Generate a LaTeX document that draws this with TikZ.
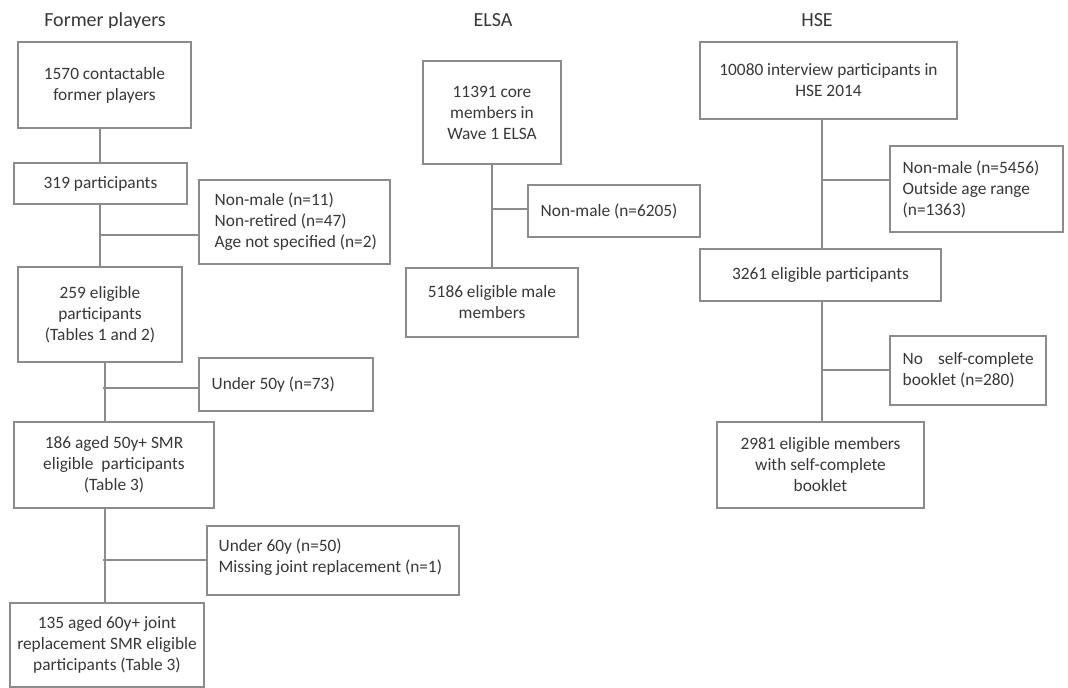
\documentclass[tikz,border=0pt]{standalone}
\usepackage{fontspec}
\setmainfont{Carlito}
\definecolor{linegray}{HTML}{8C8C8C}
\definecolor{textgray}{HTML}{383838}
\begin{document}
\begin{tikzpicture}[x=0.75pt,y=-0.75pt,
  box/.style={draw=linegray, line width=0.9pt, text=textgray, align=center, inner sep=0pt,
    font=\fontsize{13}{15.75}\selectfont},
  etext/.style={anchor=west, text=textgray, align=left, inner sep=0pt,
    font=\fontsize{13}{15.75}\selectfont},
  title/.style={anchor=base, text=textgray, inner sep=0pt, font=\fontsize{15}{18}\selectfont},
  conn/.style={draw=linegray, line width=0.9pt}]
\useasboundingbox (0,0) rectangle (1068,688);
\fill[white] (0,0) rectangle (1068,688);

% titles (clipped at the bottom as in the reference)
\begin{scope}
\clip (0,0) rectangle (1068,27.5);
\node[title] (t1) at (105,26.5) {Former players};
\node[title] (t2) at (493,26.5) {ELSA};
\node[title] (t3) at (817,26.5) {HSE};
\end{scope}

% Former players
\node[box, minimum width=173*0.75pt, minimum height=86*0.75pt] (A) at (104.5,85) {1570 contactable\\former players};
\node[box, minimum width=173*0.75pt, minimum height=41*0.75pt] (B) at (100.5,183.5) {319 participants};
\node[box, minimum width=191*0.75pt, minimum height=84*0.75pt] (X1) at (294.5,222) {};
\node[etext] (X1t) at ([xshift=16*0.75pt]X1.west) {Non-male (n=11)\\Non-retired (n=47)\\Age not specified (n=2)};
\node[box, minimum width=164*0.75pt, minimum height=95*0.75pt] (C) at (100,314.5) {259 eligible\\participants\\(Tables 1 and 2)};
\node[box, minimum width=174*0.75pt, minimum height=53*0.75pt] (X2) at (286,384.5) {};
\node[etext] (X2t) at ([xshift=13*0.75pt]X2.west) {Under 50y (n=73)};
\node[box, minimum width=200*0.75pt, minimum height=86*0.75pt] (D) at (114,465) {186 aged 50y+ SMR\\eligible\ \ participants\\(Table 3)};
\node[box, minimum width=252*0.75pt, minimum height=69*0.75pt] (X3) at (333,560.5) {};
\node[etext] (X3t) at ([xshift=12*0.75pt, yshift=3*0.75pt]X3.west) {Under 60y (n=50)\\Missing joint replacement (n=1)};
\node[box, minimum width=194*0.75pt, minimum height=84*0.75pt] (E) at (107,645) {135 aged 60y+ joint\\replacement SMR eligible\\participants (Table 3)};

\coordinate (j1) at (100,235);
\coordinate (j2) at (105,388);
\coordinate (j3) at (105,560);
\draw[conn] (A.south -| j1) -- (B.north -| j1);
\draw[conn] (B.south -| j1) -- (C.north -| j1);
\draw[conn] (j1) -- (X1.west |- j1);
\draw[conn] (C.south -| j2) -- (D.north -| j2);
\draw[conn] ([xshift=-2*0.75pt]j2) -- (X2.west |- j2);
\draw[conn] (D.south -| j3) -- (E.north -| j3);
\draw[conn] ([xshift=-2*0.75pt]j3) -- (X3.west |- j3);

% ELSA
\node[box, minimum width=138*0.75pt, minimum height=103*0.75pt] (F) at (492,112.5) {11391 core\\members in\\Wave 1 ELSA};
\node[box, minimum width=172*0.75pt, minimum height=52*0.75pt] (XF) at (614,211) {};
\node[etext] (XFt) at ([xshift=13*0.75pt]XF.west) {Non-male (n=6205)};
\node[box, minimum width=172*0.75pt, minimum height=69*0.75pt] (G) at (492,302.5) {5186 eligible male\\members};
\coordinate (k1) at (492,209);
\draw[conn] (F.south -| k1) -- (G.north -| k1);
\draw[conn] (k1) -- (XF.west |- k1);

% HSE
\node[box, minimum width=257*0.75pt, minimum height=77*0.75pt] (H) at (828.5,80.5) {10080 interview participants in\\HSE 2014};
\node[box, minimum width=173*0.75pt, minimum height=86*0.75pt] (XH1) at (976.5,189) {};
\node[etext] (XH1t) at ([xshift=13*0.75pt]XH1.west) {Non-male (n=5456)\\Outside age range\\(n=1363)};
\node[box, minimum width=241*0.75pt, minimum height=52*0.75pt] (I) at (820.5,275) {3261 eligible participants};
\node[box, minimum width=156*0.75pt, minimum height=69*0.75pt] (XH2) at (968,370.5) {};
\node[etext] (XH2t) at ([xshift=13*0.75pt]XH2.west) {\makebox[98.25pt][s]{No self-complete}\\booklet (n=280)};
\node[box, minimum width=207*0.75pt, minimum height=86*0.75pt] (J) at (820.5,465) {2981 eligible members\\with self-complete\\booklet};
\coordinate (m1) at (822,180);
\coordinate (m2) at (822,370);
\draw[conn] (H.south -| m1) -- (I.north -| m1);
\draw[conn] (m1) -- (XH1.west |- m1);
\draw[conn] (I.south -| m2) -- (J.north -| m2);
\draw[conn] (m2) -- (XH2.west |- m2);
\end{tikzpicture}
\end{document}
